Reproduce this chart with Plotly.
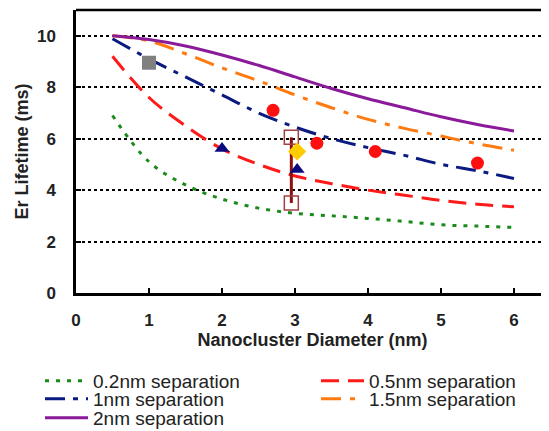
import plotly.graph_objects as go

diam = [0.5, 1, 1.5, 2, 2.5, 3, 3.5, 4, 4.5, 5, 5.5, 6]
sep_02 = [6.9, 5.1, 4.2, 3.65, 3.3, 3.1, 3.0, 2.9, 2.78, 2.65, 2.6, 2.55]
sep_05 = [9.2, 7.6, 6.5, 5.6, 5.0, 4.55, 4.25, 4.0, 3.8, 3.6, 3.45, 3.35]
sep_1 = [9.88, 9.1, 8.4, 7.7, 7.0, 6.45, 6.0, 5.65, 5.35, 5.0, 4.75, 4.45]
sep_15 = [10.0, 9.8, 9.3, 8.75, 8.25, 7.7, 7.2, 6.75, 6.4, 6.1, 5.8, 5.55]
sep_2 = [10.0, 9.85, 9.6, 9.25, 8.85, 8.4, 7.95, 7.55, 7.2, 6.85, 6.55, 6.3]

sq_x, sq_y = [1.0], [8.95]
circ_x, circ_y = [2.7, 3.3, 4.1, 5.5], [7.1, 5.82, 5.5, 5.05]
tri_x, tri_y = [2.0, 3.03], [5.62, 4.8]
dia_x, dia_y = [3.03], [5.5]
err_x, err_y = [2.95, 2.95], [6.05, 3.5]

FONT = "Liberation Sans, Arial"
# page body has an 8px margin; figure coordinates below are relative to the figure
OFF = 8
PL, PT, PH, PW = 76 - OFF, 10 - OFF, 283, 473

fig = go.Figure()
series = [
    ("0.2nm separation", sep_02, "#1a8a1a", "4px,7px", "legend", 40, 381),
    ("0.5nm separation", sep_05, "#ff1a1a", "18px,9px", "legend2", 316, 381),
    ("1nm separation", sep_1, "#0a1a80", "20px,8px,5px,8px", "legend3", 40, 399),
    ("1.5nm separation", sep_15, "#ff7a10", "20px,9px,5px,9px", "legend4", 316, 399),
    ("2nm separation", sep_2, "#8a1a9a", "solid", "legend5", 40, 418),
]
legend_layout = {}
for name, ys, col, dash, lg, xwin, ywin in series:
    fig.add_trace(go.Scatter(x=diam, y=ys, mode="lines", name=name, legend=lg,
                             line=dict(color=col, width=3, dash=dash, shape="spline")))
    legend_layout[lg] = dict(
        x=(xwin - OFF - PL) / PW, xanchor="left",
        y=1 - (ywin - OFF - PT) / PH, yanchor="middle",
        font=dict(size=19, color="#222", family=FONT), itemwidth=43,
        bgcolor="rgba(0,0,0,0)", borderwidth=0)

fig.add_trace(go.Scatter(x=err_x, y=err_y, mode="lines+markers", showlegend=False,
                         line=dict(color="#8b1010", width=3),
                         marker=dict(symbol="square-open", size=14, color="#a04040", line=dict(width=1.5))))
fig.add_trace(go.Scatter(x=sq_x, y=sq_y, mode="markers", showlegend=False,
                         marker=dict(symbol="square", size=14, color="#808080")))
fig.add_trace(go.Scatter(x=circ_x, y=circ_y, mode="markers", showlegend=False,
                         marker=dict(symbol="circle", size=13, color="#ff1010")))
fig.add_trace(go.Scatter(x=tri_x, y=tri_y, mode="markers", showlegend=False,
                         marker=dict(symbol="triangle-up", size=13, color="#0a0a80")))
fig.add_trace(go.Scatter(x=dia_x, y=dia_y, mode="markers", showlegend=False,
                         marker=dict(symbol="diamond", size=14, color="#ffcc00")))

fig.add_shape(type="line", xref="paper", yref="paper", x0=0, x1=1, y0=1, y1=1,
              line=dict(color="black", width=2.5))

W, H = 549, 431
fig.update_layout(
    width=W, height=H,
    margin=dict(l=PL, r=W - PL - PW, t=PT, b=H - PT - PH, autoexpand=False),
    plot_bgcolor="white", paper_bgcolor="white",
    font=dict(family=FONT, color="#222"),
    showlegend=True,
    xaxis=dict(range=[0, 6.48], tickvals=[0, 1, 2, 3, 4, 5, 6], showgrid=False,
               showline=True, linecolor="black", linewidth=2.5, ticks="inside",
               tickcolor="black", ticklen=5, tickwidth=1.5,
               tickfont=dict(size=17, family=FONT, weight="bold"),
               ticklabelstandoff=10, zeroline=False,
               title=dict(text="<b>Nanocluster Diameter (nm)</b>", font=dict(size=18), standoff=2)),
    yaxis=dict(range=[0, 11], tickvals=[0, 2, 4, 6, 8, 10], showgrid=True,
               gridcolor="black", griddash="dot", gridwidth=2,
               showline=True, linecolor="black", linewidth=2.5, ticks="inside",
               tickcolor="black", ticklen=5, tickwidth=1.5,
               tickfont=dict(size=17, family=FONT, weight="bold"),
               ticklabelstandoff=14, zeroline=False,
               title=dict(text="<b>Er Lifetime (ms)</b>", font=dict(size=18), standoff=4)),
    **legend_layout,
)

fig.write_html("out.html")
